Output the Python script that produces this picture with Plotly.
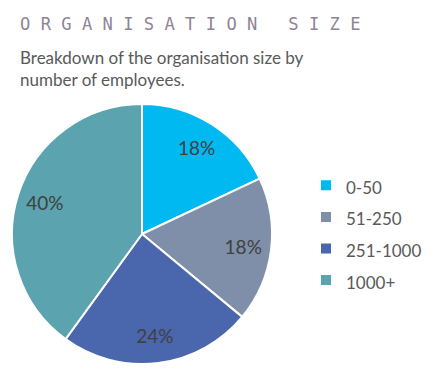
import plotly.graph_objects as go

labels = ["0-50", "51-250", "251-1000", "1000+"]
values = [18, 18, 24, 40]
colors = ["#00B9F1", "#7F8FA9", "#4A66AC", "#5BA3AE"]

title_text = "O R G A N I S A T I O N   S I Z E"
subtitle_text = "Breakdown of the organisation size by<br>number of employees."

W, H = 435, 373
dom = dict(x=[12 / W, 272 / W], y=[(H - 364) / H, (H - 104) / H])
legend_labels = [f"<span style='font-size:17px'>{l}</span>" for l in labels]

# base pie: coloured slices
fig = go.Figure(go.Pie(
    labels=legend_labels,
    values=values,
    sort=False,
    direction="clockwise",
    rotation=0,
    marker=dict(colors=colors, line=dict(color="white", width=2)),
    textinfo="none",
    domain=dom,
    hovertemplate="%{value}%<extra></extra>",
))
# ring overlay carrying the value labels further out in each slice
fig.add_trace(go.Pie(
    labels=legend_labels,
    values=values,
    sort=False,
    direction="clockwise",
    rotation=0,
    hole=0.57,
    marker=dict(colors=["rgba(0,0,0,0)"] * len(values), line=dict(width=0)),
    texttemplate="%{value}%",
    textposition="inside",
    insidetextorientation="horizontal",
    textfont=dict(family="Lato, Open Sans, sans-serif", size=19, color="#404040"),
    domain=dom,
    showlegend=False,
    hoverinfo="skip",
))

fig.update_layout(
    width=W, height=H,
    margin=dict(l=0, r=0, t=0, b=0),
    paper_bgcolor="white",
    plot_bgcolor="white",
    showlegend=True,
    legend=dict(
        x=306 / W, y=(H - 233) / H, xanchor="left", yanchor="middle",
        font=dict(family="Lato, Open Sans, sans-serif", size=22, color="#595959"),
        itemwidth=30,
    ),
    annotations=[
        dict(text=title_text, x=18 / W, y=(H - 12) / H, xref="paper", yref="paper",
             xanchor="left", yanchor="top", showarrow=False,
             font=dict(family="DejaVu Sans Mono", size=17.15, color="#8E8496")),
        dict(text=subtitle_text, x=18 / W, y=(H - 45) / H, xref="paper", yref="paper",
             xanchor="left", yanchor="top", showarrow=False, align="left",
             font=dict(family="Lato, Open Sans, sans-serif", size=17, color="#595959")),
    ],
)

fig.write_html("out.html", config={"displayModeBar": False},
               post_script="document.body.style.margin='0px';")
